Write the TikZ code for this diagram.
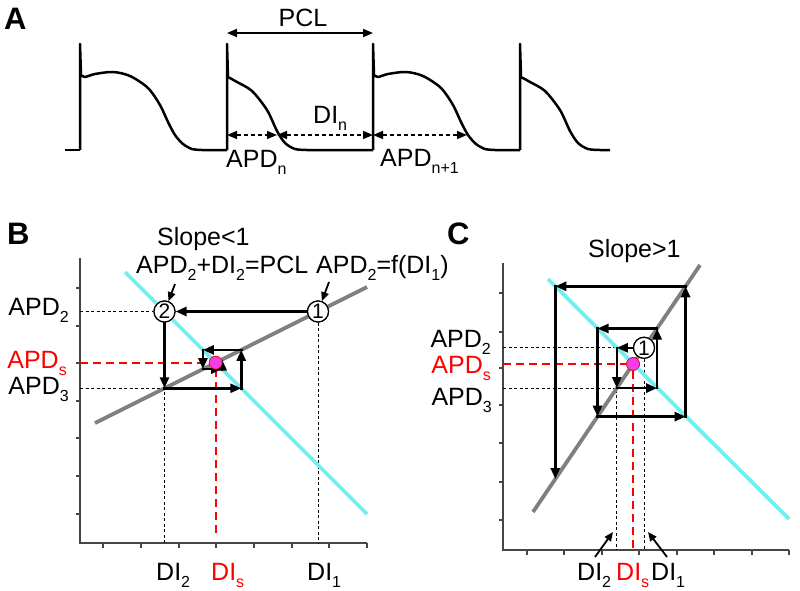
\documentclass[tikz,border=0pt]{standalone}
\usepackage{fontspec}
\setmainfont{Liberation Sans}
\usetikzlibrary{arrows.meta}
\newcommand{\lsub}[1]{\raisebox{-7pt}{\fontsize{16}{16}\selectfont #1}}
\definecolor{apcyan}{RGB}{110,240,240}
\definecolor{apgrey}{RGB}{128,128,128}
\definecolor{dotpink}{RGB}{245,60,230}
\definecolor{axisgrey}{RGB}{70,70,70}
\begin{document}
\begin{tikzpicture}[x=1pt,y=-1pt,
  txt/.style={inner sep=0pt, font=\fontsize{25}{29}\selectfont},
  redtxt/.style={txt, text=red},
  panel/.style={inner sep=0pt, font=\fontsize{31}{33}\selectfont\bfseries},
  wave/.style={line width=2.5pt, line join=round},
  tip/.style={-{Triangle[length=11pt,width=9pt]}},
  bitip/.style={{Triangle[length=10pt,width=8pt]}-{Triangle[length=10pt,width=8pt]}},
  arr/.style={tip, line width=2.6pt, line cap=rect},
  lblarr/.style={-{Triangle[length=9pt,width=7.5pt]}, line width=1.8pt},
  dim/.style={line width=1.8pt},
  dimdash/.style={line width=1.6pt, dash pattern=on 4pt off 3pt},
  thindash/.style={line width=1pt, dash pattern=on 3pt off 2.5pt},
  reddash/.style={line width=2.2pt, red, dash pattern=on 8pt off 5pt},
  fcurve/.style={apgrey, line width=3.8pt},
  pclline/.style={apcyan, line width=3.8pt},
  axis/.style={axisgrey, line width=1.5pt},
  circ/.style={circle, draw, fill=white, line width=1.2pt, minimum size=21pt, inner sep=0pt, font=\fontsize{21}{21}\selectfont},
  fixdot/.style={circle, fill=dotpink, draw=red!80!black, line width=0.5pt, minimum size=13pt, inner sep=0pt},
]
\useasboundingbox (0,0) rectangle (800,591);

% ================= Panel A =================
\node[panel, anchor=base west] (labA) at (4,30) {A};
\draw[wave] (65,150) -- (80,150);
\draw[wave, shift={(80,0)}] (0,150) -- (0,44) -- (1,75) -- plot[smooth] coordinates {(1,75)(5,77)(15,74)(33,72)(50,76)(68,88)(80,105)(88,122)(95,135)(103,144)(112,149)(122,150)} -- (147,150);
\draw[wave, shift={(227,0)}] (0,150) -- (0,44) -- (1,77) -- plot[smooth] coordinates {(1,77)(10,82)(25,91)(40,110)(50,131)(58,143)(68,149)(80,150)} -- (146,150);
\draw[wave, shift={(373,0)}] (0,150) -- (0,44) -- (1,75) -- plot[smooth] coordinates {(1,75)(5,77)(15,74)(33,72)(50,76)(68,88)(80,105)(88,122)(95,135)(103,144)(112,149)(122,150)} -- (147,150);
\draw[wave, shift={(520,0)}] (0,150) -- (0,44) -- (1,77) -- plot[smooth] coordinates {(1,77)(10,82)(25,91)(40,110)(50,131)(58,143)(68,149)(80,150)} -- (90,150);

\coordinate (pclL) at (227,33);
\coordinate (pclR) at (373,33);
\draw[dim, bitip] (pclL) -- (pclR);
\coordinate (a1) at (227,135);
\coordinate (a2) at (277,135);
\coordinate (a3) at (373,135);
\coordinate (a4) at (467,135);
\draw[dimdash, bitip] (a1) -- (a2);
\draw[dimdash, bitip] (a2) -- (a3);
\draw[dimdash, bitip] (a3) -- (a4);
\node[txt, anchor=base] (pcl) at (303,27) {PCL};
\node[txt, anchor=base west] (apdn) at (226,167) {APD\lsub{n}};
\node[txt, anchor=base west] (din) at (313,124) {DI\lsub{n}};
\node[txt, anchor=base west] (apdn1) at (380,166) {APD\lsub{n+1}};

% ================= Panel B =================
\node[panel, anchor=base west] (labB) at (7,244) {B};
\node[txt, anchor=base west] (slopeB) at (157,245) {Slope<1};
\coordinate (Btop) at (80,258);
\coordinate (Bo) at (80,543);
\coordinate (Bright) at (367,543);
\draw[axis] (Btop) -- (Bo) -- (Bright);
\foreach \y in {288,326,363,401,438,476,514} \draw[axis] (76,\y) -- (80,\y);
\foreach \x in {103,141,179,216,254,292,329,367} \draw[axis] (\x,543) -- (\x,548);

\node[circ] (B1) at (318,311.5) {1};
\node[circ] (B2) at (164.5,311.5) {2};
\coordinate (B3) at (164.5,388.25);
\coordinate (B4) at (241.25,388.25);
\coordinate (B5) at (241.25,349.9);
\coordinate (B6) at (202.9,349.9);
\coordinate (B7) at (202.9,369.1);
\coordinate (B8) at (222.1,369.1);
\coordinate (B9) at (222.1,359.5);
\node[fixdot] (Bdot) at (215.67,362.67) {};

\coordinate (BaxA2) at (80,311.5);
\coordinate (BaxA3) at (80,388.25);
\coordinate (BaxAs) at (80,362.67);
\coordinate (BxD1) at (318,543);
\coordinate (BxD2) at (164.5,543);
\coordinate (BxDs) at (215.67,537);
\draw[thindash] (BaxA2) -- (B2);
\draw[thindash] (BaxA3) -- (B3) -- (BxD2);
\draw[thindash] (B1) -- (BxD1);
\draw[reddash] (BaxAs) -- (Bdot);
\draw[reddash] (Bdot) -- (BxDs);

\coordinate (Bf1) at (95,423);
\coordinate (Bf2) at (367,287);
\coordinate (Bg1) at (125,272);
\coordinate (Bg2) at (367,514);
\draw[fcurve] (Bf1) -- (Bf2);
\draw[pclline] (Bg1) -- (Bg2);

\draw[arr] (B1) -- (B2);
\draw[arr] (B2) -- (B3);
\draw[arr] (B3) -- (B4);
\draw[arr] (B4) -- (B5);
\draw[arr] (B5) -- (B6);
\draw[arr] (B6) -- (B7);
\draw[arr] (B7) -- (B8);
\draw[arr] (B8) -- (B9);
\node[circ] at (B1) {1};
\node[circ] at (B2) {2};
\node[fixdot] at (Bdot) {};

\node[txt, anchor=base west] (eqB) at (136,273) {APD\lsub{2}+DI\lsub{2}=PCL};
\node[txt, anchor=base west] (fB) at (316,273) {APD\lsub{2}=f(DI\lsub{1})};
\coordinate (eqBarr) at (175,284);
\coordinate (fBarr) at (329,282);
\draw[lblarr] (eqBarr) -- (B2);
\draw[lblarr] (fBarr) -- (B1);

\node[txt, anchor=base east] (BlA2) at (69,315) {APD\lsub{2}};
\node[redtxt, anchor=base east] (BlAs) at (67,368) {APD\lsub{s}};
\node[txt, anchor=base east] (BlA3) at (69,394) {APD\lsub{3}};
\node[txt, anchor=base west] (BlD2) at (156,580) {DI\lsub{2}};
\node[redtxt, anchor=base west] (BlDs) at (211,580) {DI\lsub{s}};
\node[txt, anchor=base west] (BlD1) at (307,580) {DI\lsub{1}};

% ================= Panel C =================
\node[panel, anchor=base west] (labC) at (447,244) {C};
\node[txt, anchor=base west] (slopeC) at (588,257) {Slope>1};
\coordinate (Ctop) at (503,263);
\coordinate (Co) at (503,550);
\coordinate (Cright) at (789,550);
\draw[axis] (Ctop) -- (Co) -- (Cright);
\foreach \y in {293,332,368,405,443,482,520} \draw[axis] (499,\y) -- (503,\y);
\foreach \x in {527,564,602,639,677,714,752,789} \draw[axis] (\x,550) -- (\x,555);

\node[circ] (C1) at (644,347.8) {1};
\coordinate (C2) at (616.8,347.8);
\coordinate (C3) at (616.8,388.1);
\coordinate (C4) at (657.1,388.1);
\coordinate (C5) at (657.1,328.5);
\coordinate (C6) at (597.5,328.5);
\coordinate (C7) at (597.5,416.6);
\coordinate (C8) at (685.6,416.6);
\coordinate (C9) at (685.6,286.3);
\coordinate (C10) at (555.3,286.3);
\coordinate (C11) at (555.3,479.0);
\node[fixdot] (Cdot) at (633,364) {};

\coordinate (CaxA2) at (503,347.8);
\coordinate (CaxA3) at (503,388.1);
\coordinate (CaxAs) at (503,364);
\coordinate (CxD1) at (644,550);
\coordinate (CxD2) at (616.8,550);
\coordinate (CxDs) at (633,548);
\draw[thindash] (CaxA2) -- (C2);
\draw[thindash] (CaxA3) -- (C3) -- (CxD2);
\draw[thindash] (C1) -- (CxD1);
\draw[reddash] (CaxAs) -- (Cdot);
\draw[reddash] (Cdot) -- (CxDs);

\coordinate (Cf1) at (533,512);
\coordinate (Cf2) at (700,265);
\coordinate (Cg1) at (548,279);
\coordinate (Cg2) at (789,519);
\draw[fcurve] (Cf1) -- (Cf2);
\draw[pclline] (Cg1) -- (Cg2);

\draw[arr] (C1) -- (C2);
\draw[arr] (C2) -- (C3);
\draw[arr] (C3) -- (C4);
\draw[arr] (C4) -- (C5);
\draw[arr] (C5) -- (C6);
\draw[arr] (C6) -- (C7);
\draw[arr] (C7) -- (C8);
\draw[arr] (C8) -- (C9);
\draw[arr] (C9) -- (C10);
\draw[arr] (C10) -- (C11);
\node[circ] at (C1) {1};
\node[fixdot] at (Cdot) {};

\node[txt, anchor=base east] (ClA2) at (491,347) {APD\lsub{2}};
\node[redtxt, anchor=base east] (ClAs) at (491,373) {APD\lsub{s}};
\node[txt, anchor=base east] (ClA3) at (492,405) {APD\lsub{3}};
\node[txt, anchor=base west] (ClD2) at (577,580) {DI\lsub{2}};
\node[redtxt, anchor=base west] (ClDs) at (616,580) {DI\lsub{s}};
\node[txt, anchor=base west] (ClD1) at (651,580) {DI\lsub{1}};
\coordinate (CaD2s) at (595,557);
\coordinate (CaD2e) at (613,532);
\coordinate (CaD1s) at (667,557);
\coordinate (CaD1e) at (648,532);
\draw[lblarr] (CaD2s) -- (CaD2e);
\draw[lblarr] (CaD1s) -- (CaD1e);
\end{tikzpicture}
\end{document}
